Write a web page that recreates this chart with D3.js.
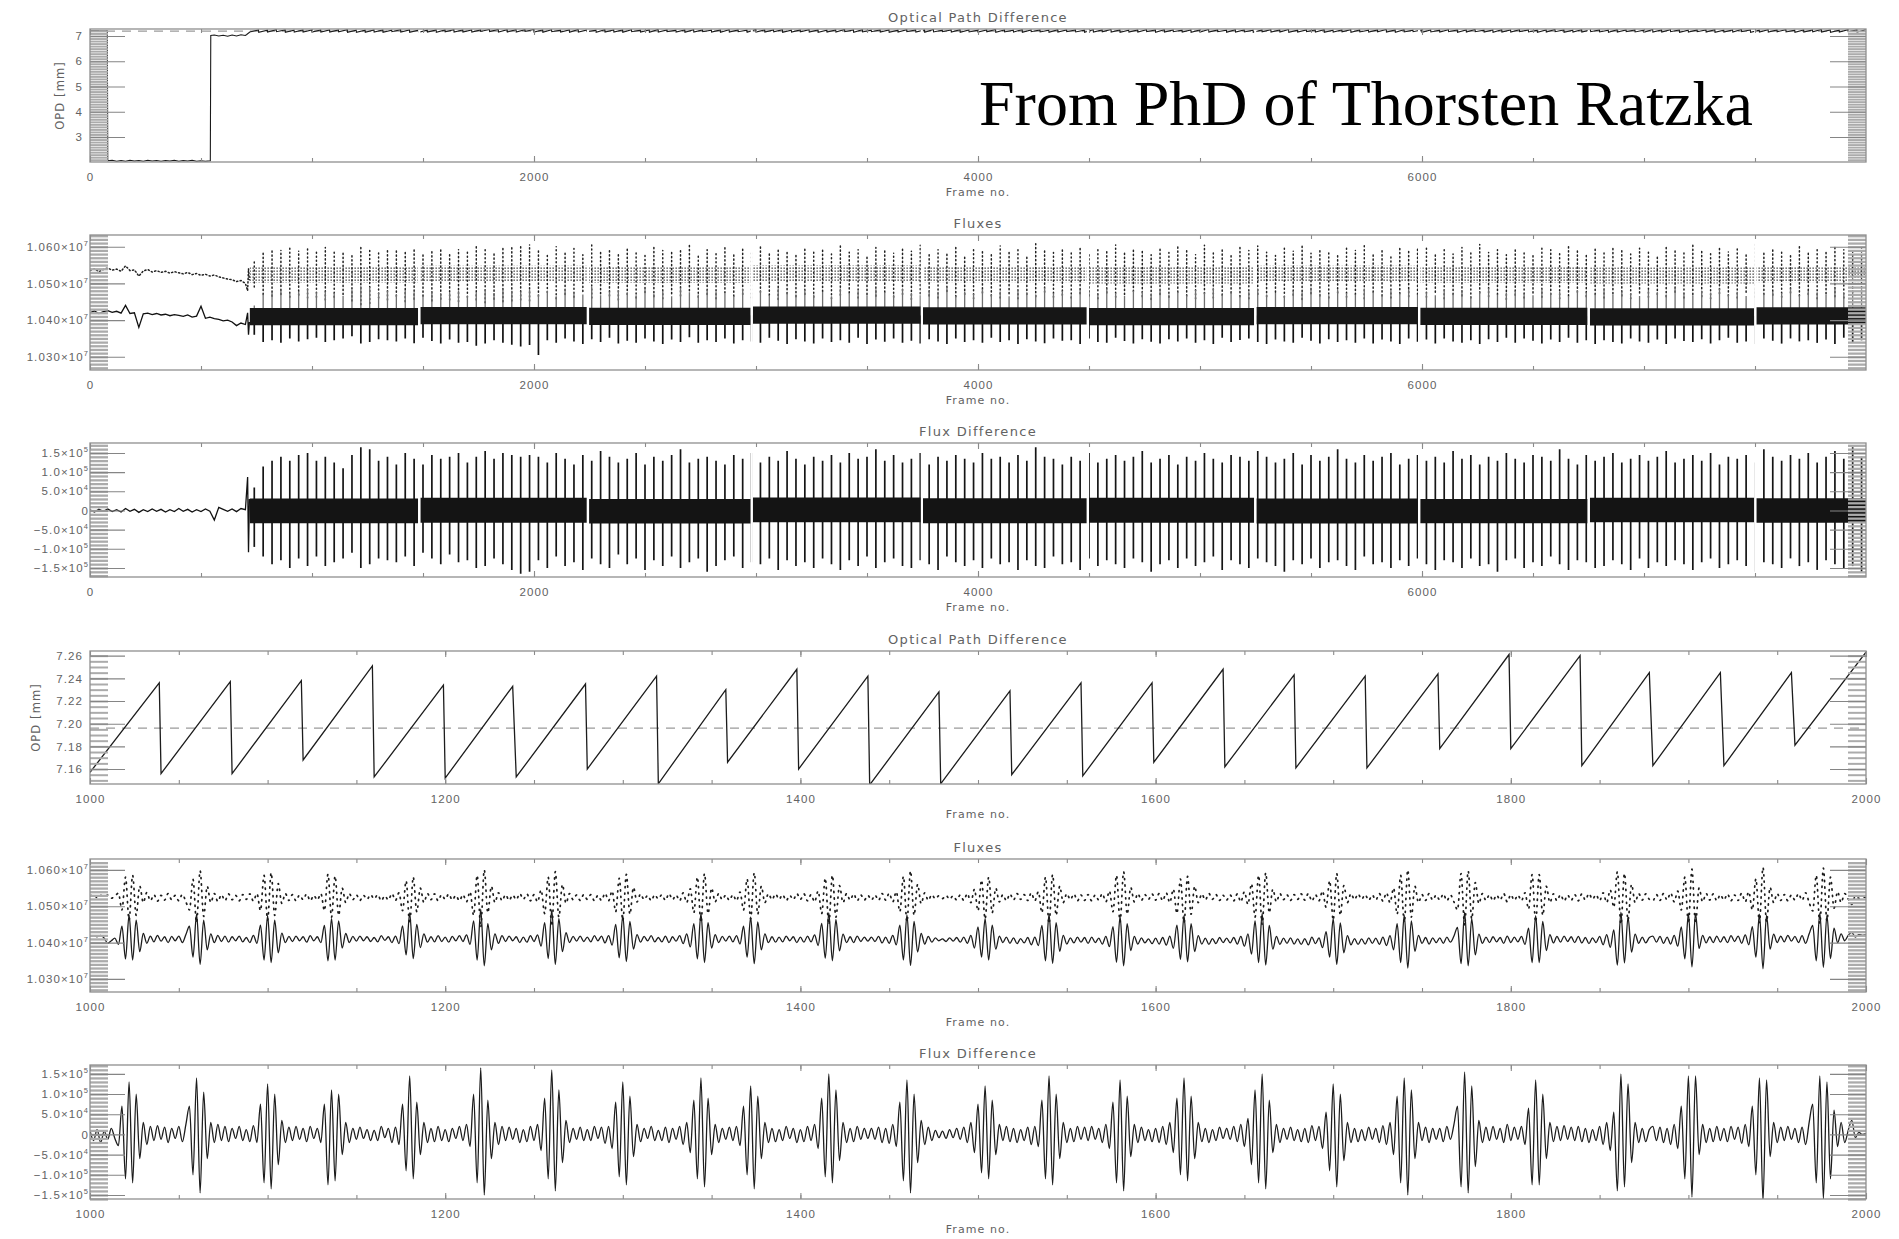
<!DOCTYPE html>
<html>
<head>
<meta charset="utf-8">
<script src="https://cdn.jsdelivr.net/npm/d3@7"></script>
<style>
  body { margin: 0; background: #fff; }
  svg { display: block; font-family: "DejaVu Sans", sans-serif; }
</style>
</head>
<body>
<svg id="fig" width="1899" height="1239"></svg>
<script>
// ---------------- data ----------------
// OPD in mm, fluxes in 10^3 counts, flux difference in 10^3 counts

// start of the run, before fringe tracking (frames 0..720)
const opdPreFrames = [0, 78, 80, 100, 120, 140, 160, 180, 200, 220, 240, 260, 280, 300, 320, 340, 360, 380, 400, 420, 440, 460, 480, 500, 520, 542, 544, 560, 580, 600, 620, 640, 660, 680, 700, 706, 720];
const opdPreValues = [7.20, 7.20, 2.06, 2.08, 2.04, 2.07, 2.04, 2.08, 2.05, 2.07, 2.04, 2.08, 2.05, 2.07, 2.04, 2.07, 2.05, 2.08, 2.04, 2.07, 2.05, 2.08, 2.04, 2.06, 2.04, 2.06, 7.02, 7.04, 7.00, 7.03, 6.99, 7.04, 7.00, 7.05, 7.02, 7.06, 7.16];

const fluxPreFrames = [0, 20, 40, 60, 80, 100, 120, 140, 160, 180, 200, 220, 240, 260, 280, 300, 320, 340, 360, 380, 400, 420, 440, 460, 480, 500, 520, 540, 560, 580, 600, 620, 640, 660, 680, 700, 710, 714, 718];
const diffPre = [2, -4, 3, -2, 4, -3, 2, -4, 5, -2, 3, -5, 2, -3, 4, -2, 3, -4, 2, -3, 5, -2, 3, -4, 2, -3, 4, -2, -25, 8, 3, -2, 4, -3, 5, 2, 87, -109, 30];
const fluxBPre = [10420, 10425, 10418, 10423, 10426, 10421, 10424, 10419, 10440, 10418, 10420, 10380, 10417, 10419, 10415, 10418, 10414, 10416, 10412, 10415, 10413, 10410, 10414, 10408, 10411, 10438, 10405, 10408, 10404, 10402, 10398, 10400, 10395, 10385, 10392, 10388, 10420, 10360, 10395];
const fluxAPre = [10535, 10540, 10532, 10538, 10542, 10536, 10539, 10533, 10548, 10535, 10537, 10520, 10534, 10538, 10531, 10535, 10530, 10533, 10528, 10532, 10529, 10526, 10530, 10524, 10527, 10522, 10525, 10520, 10523, 10518, 10515, 10512, 10510, 10505, 10508, 10500, 10480, 10540, 10510];

// fringe tracking run, summarised in 40-frame bins from frame 720
const binStart = 720, binWidth = 40;
const opdLo = [
  7.16, 7.15, 7.16, 7.17, 7.15, 7.16, 7.16,
  7.16, 7.16, 7.16, 7.17, 7.15, 7.15, 7.15, 7.16, 7.15, 7.17, 7.16, 7.15, 7.15, 7.16, 7.15, 7.17, 7.16, 7.16, 7.16, 7.18, 7.18, 7.16, 7.16, 7.16, 7.18,
  7.16, 7.15, 7.17, 7.16, 7.15, 7.16, 7.17, 7.15, 7.16, 7.16,
  7.15, 7.17, 7.16, 7.15, 7.16, 7.17, 7.16, 7.15, 7.16, 7.17,
  7.16, 7.15, 7.16, 7.17, 7.15, 7.16, 7.16, 7.17, 7.15, 7.16,
  7.17, 7.16, 7.15, 7.16, 7.16, 7.17, 7.15, 7.16, 7.17, 7.16,
  7.15, 7.16, 7.17, 7.16, 7.15, 7.16, 7.17, 7.16, 7.15, 7.16,
  7.16, 7.17, 7.15, 7.16, 7.16, 7.15, 7.17, 7.16, 7.15, 7.16,
  7.17, 7.16, 7.15, 7.16, 7.17, 7.16, 7.15, 7.16, 7.16, 7.17,
  7.15, 7.16, 7.17, 7.16, 7.15, 7.16, 7.16, 7.17, 7.15, 7.16,
  7.16, 7.15, 7.17, 7.16, 7.16, 7.15, 7.16, 7.17, 7.16, 7.15,
  7.16, 7.17, 7.15, 7.16, 7.16, 7.17, 7.16, 7.15, 7.16, 7.17,
  7.15, 7.16, 7.16, 7.17, 7.15, 7.16, 7.17, 7.16, 7.15, 7.16,
  7.16, 7.17, 7.16, 7.15, 7.16, 7.17, 7.15, 7.16, 7.16, 7.17,
  7.16, 7.15, 7.16, 7.17, 7.16, 7.15, 7.16, 7.16, 7.17, 7.15,
  7.16, 7.17, 7.16, 7.15, 7.16, 7.16, 7.17, 7.15, 7.16, 7.16,
  7.17, 7.16, 7.15, 7.16, 7.17, 7.16, 7.15, 7.16, 7.17, 7.16
];
const opdHi = [
  7.24, 7.23, 7.25, 7.24, 7.23, 7.24, 7.24,
  7.24, 7.24, 7.24, 7.25, 7.23, 7.23, 7.24, 7.24, 7.23, 7.25, 7.24, 7.23, 7.23, 7.24, 7.24, 7.25, 7.24, 7.24, 7.24, 7.26, 7.26, 7.25, 7.25, 7.25, 7.26,
  7.24, 7.25, 7.23, 7.24, 7.26, 7.24, 7.23, 7.25, 7.24, 7.24,
  7.25, 7.23, 7.24, 7.26, 7.24, 7.23, 7.24, 7.25, 7.24, 7.23,
  7.24, 7.25, 7.24, 7.23, 7.26, 7.24, 7.24, 7.25, 7.23, 7.24,
  7.25, 7.24, 7.23, 7.24, 7.26, 7.24, 7.25, 7.23, 7.24, 7.24,
  7.23, 7.25, 7.24, 7.24, 7.26, 7.23, 7.24, 7.25, 7.24, 7.23,
  7.24, 7.26, 7.24, 7.23, 7.25, 7.24, 7.24, 7.23, 7.25, 7.24,
  7.24, 7.23, 7.25, 7.24, 7.26, 7.24, 7.23, 7.24, 7.25, 7.24,
  7.25, 7.24, 7.23, 7.24, 7.24, 7.26, 7.24, 7.23, 7.25, 7.24,
  7.23, 7.24, 7.25, 7.24, 7.26, 7.23, 7.24, 7.24, 7.25, 7.23,
  7.24, 7.25, 7.24, 7.23, 7.24, 7.26, 7.24, 7.25, 7.23, 7.24,
  7.24, 7.23, 7.25, 7.24, 7.24, 7.26, 7.23, 7.24, 7.25, 7.24,
  7.25, 7.24, 7.23, 7.24, 7.26, 7.24, 7.23, 7.25, 7.24, 7.24,
  7.23, 7.25, 7.24, 7.24, 7.23, 7.26, 7.24, 7.25, 7.24, 7.23,
  7.24, 7.24, 7.25, 7.23, 7.24, 7.26, 7.24, 7.23, 7.25, 7.24,
  7.25, 7.23, 7.24, 7.24, 7.26, 7.24, 7.23, 7.25, 7.24, 7.25
];
const diffHi = [
  60, 115, 130, 140, 130, 145, 150,
  130, 140, 125, 110, 145, 165, 160, 130, 140, 120, 150, 135, 120, 145, 135, 140, 150, 125, 140, 155, 135, 150, 145, 140, 145,
  140, 125, 150, 135, 120, 145, 130, 155, 140, 125,
  135, 150, 120, 140, 130, 145, 160, 125, 135, 140,
  130, 120, 145, 135, 150, 125, 140, 130, 155, 135,
  120, 140, 130, 145, 125, 150, 135, 140, 160, 130,
  145, 125, 135, 150, 120, 140, 130, 145, 135, 125,
  150, 135, 140, 125, 145, 130, 165, 140, 135, 120,
  140, 130, 150, 125, 135, 145, 130, 140, 155, 125,
  135, 145, 120, 140, 130, 150, 135, 125, 145, 140,
  130, 155, 140, 125, 135, 150, 120, 145, 130, 140,
  160, 135, 125, 145, 130, 140, 150, 120, 135, 145,
  130, 140, 125, 155, 135, 145, 120, 140, 130, 150,
  135, 125, 145, 140, 130, 160, 135, 120, 145, 130,
  140, 150, 125, 135, 145, 130, 140, 155, 125, 135,
  145, 130, 150, 120, 140, 135, 145, 125, 160, 140,
  130, 145, 135, 150, 125, 140, 155, 135, 165, 140
];
const diffLo = [
  -95, -120, -140, -130, -150, -125, -145,
  -120, -145, -135, -125, -110, -150, -140, -125, -130, -135, -120, -145, -110, -125, -140, -115, -135, -130, -150, -145, -125, -140, -155, -165, -160,
  -130, -150, -120, -145, -135, -155, -125, -140, -150, -115,
  -140, -125, -155, -130, -145, -120, -150, -135, -125, -160,
  -145, -130, -120, -150, -135, -140, -125, -155, -130, -145,
  -135, -150, -125, -140, -155, -130, -145, -120, -150, -135,
  -125, -145, -150, -130, -140, -155, -120, -135, -145, -130,
  -150, -125, -140, -135, -155, -130, -145, -150, -120, -140,
  -135, -155, -125, -145, -130, -140, -150, -125, -135, -160,
  -140, -130, -150, -125, -145, -135, -120, -155, -130, -140,
  -150, -125, -135, -145, -160, -130, -140, -125, -150, -135,
  -130, -145, -155, -120, -140, -135, -150, -130, -145, -125,
  -140, -155, -130, -135, -150, -125, -145, -140, -160, -130,
  -125, -150, -135, -145, -120, -140, -155, -130, -135, -150,
  -145, -130, -140, -155, -125, -150, -135, -145, -130, -140,
  -155, -135, -125, -150, -140, -130, -145, -160, -135, -140,
  -150, -125, -145, -135, -155, -130, -140, -150, -145, -160
];
const fluxBLo = [
  10360, 10340, 10345, 10338, 10350, 10342, 10348,
  10352, 10340, 10345, 10350, 10356, 10336, 10340, 10348, 10345, 10342, 10350, 10337, 10352, 10343, 10336, 10347, 10338, 10340, 10330, 10336, 10345, 10338, 10333, 10328, 10332,
  10305, 10345, 10338, 10350, 10342, 10335, 10348, 10340, 10352, 10336,
  10344, 10338, 10350, 10342, 10335, 10347, 10340, 10353, 10338, 10345,
  10340, 10350, 10336, 10345, 10342, 10338, 10352, 10344, 10335, 10348,
  10342, 10336, 10350, 10340, 10345, 10338, 10352, 10335, 10347, 10341,
  10350, 10338, 10344, 10336, 10348, 10342, 10335, 10350, 10340, 10345,
  10338, 10352, 10340, 10345, 10335, 10348, 10342, 10337, 10350, 10344,
  10345, 10335, 10350, 10340, 10338, 10352, 10343, 10336, 10348, 10341,
  10336, 10348, 10342, 10350, 10338, 10345, 10335, 10352, 10340, 10346,
  10350, 10340, 10335, 10347, 10342, 10338, 10352, 10344, 10336, 10348,
  10340, 10345, 10338, 10350, 10336, 10347, 10342, 10335, 10350, 10341,
  10347, 10336, 10350, 10342, 10338, 10345, 10335, 10348, 10340, 10352,
  10338, 10350, 10344, 10336, 10347, 10340, 10352, 10338, 10345, 10335,
  10345, 10340, 10336, 10350, 10342, 10338, 10347, 10335, 10350, 10343,
  10340, 10348, 10336, 10345, 10352, 10338, 10342, 10335, 10350, 10344,
  10336, 10350, 10342, 10345, 10338, 10347, 10335, 10352, 10340, 10345
];
const fluxBHi = [
  10440, 10470, 10475, 10480, 10472, 10478, 10485,
  10476, 10478, 10474, 10466, 10482, 10492, 10490, 10475, 10480, 10470, 10482, 10476, 10466, 10478, 10472, 10474, 10480, 10466, 10476, 10484, 10474, 10484, 10480, 10478, 10482,
  10470, 10480, 10465, 10485, 10475, 10470, 10490, 10468, 10478, 10482,
  10475, 10468, 10485, 10472, 10480, 10465, 10488, 10476, 10470, 10483,
  10478, 10472, 10466, 10485, 10474, 10480, 10468, 10487, 10475, 10470,
  10482, 10470, 10477, 10465, 10486, 10473, 10480, 10468, 10484, 10476,
  10470, 10485, 10474, 10468, 10480, 10477, 10490, 10466, 10478, 10472,
  10485, 10470, 10478, 10465, 10482, 10475, 10470, 10488, 10473, 10480,
  10468, 10482, 10476, 10470, 10486, 10474, 10466, 10480, 10478, 10472,
  10484, 10470, 10477, 10468, 10482, 10475, 10488, 10470, 10476, 10466,
  10478, 10485, 10470, 10474, 10466, 10480, 10476, 10488, 10472, 10468,
  10482, 10474, 10470, 10486, 10476, 10468, 10480, 10473, 10485, 10470,
  10476, 10468, 10484, 10472, 10480, 10466, 10478, 10487, 10470, 10475,
  10480, 10472, 10468, 10485, 10474, 10478, 10466, 10482, 10476, 10470,
  10486, 10470, 10478, 10474, 10466, 10482, 10476, 10470, 10488, 10473,
  10468, 10480, 10475, 10486, 10470, 10477, 10466, 10484, 10472, 10478,
  10474, 10486, 10468, 10480, 10476, 10470, 10488, 10474, 10480, 10484
];
const fluxAHi = [
  10560, 10585, 10595, 10590, 10600, 10588, 10596,
  10585, 10598, 10592, 10588, 10580, 10600, 10595, 10588, 10590, 10592, 10585, 10597, 10580, 10587, 10595, 10582, 10592, 10590, 10600, 10597, 10587, 10595, 10602, 10607, 10605,
  10592, 10580, 10600, 10585, 10595, 10578, 10605, 10588, 10590, 10582,
  10598, 10586, 10576, 10602, 10590, 10584, 10595, 10610, 10580, 10592,
  10585, 10600, 10578, 10594, 10588, 10605, 10582, 10596, 10590, 10576,
  10600, 10588, 10594, 10580, 10606, 10585, 10592, 10578, 10598, 10590,
  10582, 10596, 10588, 10604, 10580, 10592, 10586, 10600, 10575, 10594,
  10590, 10580, 10602, 10586, 10595, 10578, 10608, 10590, 10584, 10598,
  10586, 10600, 10580, 10594, 10590, 10605, 10582, 10592, 10588, 10578,
  10596, 10584, 10600, 10590, 10578, 10604, 10588, 10594, 10580, 10598,
  10590, 10602, 10585, 10576, 10596, 10588, 10606, 10582, 10594, 10590,
  10580, 10598, 10590, 10604, 10584, 10592, 10578, 10600, 10588, 10595,
  10602, 10585, 10594, 10580, 10598, 10590, 10606, 10584, 10592, 10578,
  10596, 10588, 10580, 10600, 10592, 10584, 10604, 10590, 10578, 10598,
  10586, 10602, 10590, 10580, 10596, 10588, 10575, 10600, 10592, 10584,
  10604, 10590, 10582, 10598, 10586, 10594, 10580, 10606, 10588, 10596,
  10590, 10580, 10600, 10586, 10596, 10584, 10602, 10592, 10588, 10598
];
const fluxALo = [
  10490, 10470, 10465, 10470, 10462, 10468, 10460,
  10462, 10455, 10462, 10470, 10452, 10442, 10445, 10460, 10455, 10465, 10450, 10457, 10465, 10452, 10457, 10455, 10450, 10462, 10455, 10447, 10457, 10450, 10452, 10455, 10452,
  10465, 10475, 10458, 10470, 10462, 10478, 10460, 10472, 10466, 10455,
  10470, 10460, 10475, 10464, 10458, 10472, 10466, 10480, 10462, 10470,
  10458, 10474, 10465, 10470, 10460, 10476, 10468, 10456, 10472, 10464,
  10470, 10462, 10478, 10458, 10468, 10474, 10460, 10470, 10465, 10476,
  10462, 10470, 10456, 10472, 10466, 10460, 10478, 10464, 10470, 10458,
  10474, 10466, 10460, 10472, 10458, 10470, 10464, 10476, 10462, 10468,
  10460, 10472, 10466, 10458, 10474, 10462, 10470, 10478, 10464, 10456,
  10470, 10462, 10476, 10466, 10458, 10472, 10460, 10468, 10474, 10464,
  10458, 10470, 10464, 10476, 10462, 10468, 10456, 10472, 10466, 10460,
  10474, 10462, 10470, 10458, 10476, 10466, 10460, 10472, 10464, 10470,
  10462, 10476, 10458, 10470, 10466, 10460, 10474, 10464, 10470, 10456,
  10468, 10460, 10474, 10462, 10470, 10458, 10466, 10476, 10464, 10470,
  10460, 10472, 10466, 10458, 10474, 10462, 10470, 10464, 10476, 10460,
  10470, 10464, 10458, 10472, 10466, 10460, 10476, 10462, 10470, 10468,
  10462, 10474, 10466, 10470, 10458, 10472, 10464, 10460, 10476, 10466
];
// dense fringe band between the packets, one entry per recorded block
const diffCoreHi = [31, 33, 30, 34, 32, 33, 31, 30, 33, 32];
const diffCoreLo = [-33, -32, -34, -31, -33, -32, -34, -33, -31, -32];
const fluxBCoreHi = [10433, 10436, 10434, 10437, 10435, 10433, 10436, 10434, 10432, 10435];
const fluxBCoreLo = [10386, 10389, 10387, 10390, 10388, 10386, 10389, 10387, 10385, 10388];
const fluxACoreHi = [10546, 10548, 10545, 10549, 10547, 10545, 10548, 10546, 10544, 10547];
const fluxACoreLo = [10502, 10504, 10501, 10505, 10503, 10500, 10504, 10502, 10500, 10503];
// frames lost between recorded blocks
const gapStart = [1478, 2238, 2976, 3742, 4490, 5244, 5982, 6746, 7496];
const gapEnd = [1488, 2248, 2986, 3752, 4500, 5254, 5992, 6756, 7506];

// zoom on frames 1000..2000: OPD scan vertices
const opdFrames = [1000, 1039, 1040, 1079, 1080, 1119, 1120, 1159, 1160, 1199, 1200, 1238, 1240, 1279, 1280, 1319, 1320, 1358, 1359, 1398, 1399, 1438, 1439, 1478, 1479, 1518, 1519, 1558, 1559, 1598, 1599, 1638, 1639, 1678, 1679, 1718, 1719, 1759, 1760, 1799, 1800, 1839, 1840, 1878, 1880, 1918, 1920, 1958, 1960, 2000];
const opdValues = [7.157, 7.236, 7.156, 7.237, 7.156, 7.238, 7.168, 7.251, 7.153, 7.234, 7.152, 7.233, 7.153, 7.235, 7.160, 7.242, 7.147, 7.230, 7.166, 7.248, 7.160, 7.242, 7.146, 7.228, 7.147, 7.229, 7.155, 7.236, 7.154, 7.236, 7.166, 7.248, 7.162, 7.243, 7.161, 7.242, 7.161, 7.244, 7.178, 7.261, 7.178, 7.260, 7.163, 7.245, 7.163, 7.245, 7.163, 7.245, 7.181, 7.263];
const opdReference = 7.196;

// zoom on frames 1000..2000: every second frame
const detailFirst = 1000, detailStep = 2;
const diffDetail = [
  10, -15, 12, -20, 8, -12, 15, -10, -28, 70,
  -110, 130, -120, 100, -60, 30, -25, 20, -15, 22,
  -12, 18, -20, 15, -10, 20, -18, 25, 70, -100,
  140, -145, 105, -60, 30, -20, 25, -15, 20, -18,
  15, -10, 20, -15, 12, -18, 22, -20, 75, -120,
  125, -135, 100, -75, 35, -20, 18, -15, 20, -12,
  15, -18, 20, -10, 15, -20, 75, -125, 110, -115,
  100, -50, 30, -20, 15, -12, 18, -10, 12, -15,
  10, -15, 20, -8, 15, -20, 18, -25, 75, -90,
  145, -110, 80, -50, 30, -20, 15, -18, 20, -15,
  12, -18, 15, -10, 20, -15, 25, -30, 100, -120,
  165, -150, 85, -60, 30, -25, 20, -15, 18, -12,
  15, -20, 12, -18, 20, -15, 25, -40, 90, -110,
  160, -140, 110, -70, 35, -20, 15, -12, 18, -15,
  12, -15, 20, -10, 18, -22, 20, -35, 80, -105,
  130, -125, 95, -55, 25, -18, 15, -10, 20, -15,
  10, -15, 18, -20, 15, -12, 20, -25, 30, -45,
  85, -110, 140, -130, 90, -50, 25, -20, 15, -12,
  18, -15, 20, -28, 70, -100, 120, -135, 95, -60,
  30, -20, 15, -18, 12, -15, 20, -10, 15, -20,
  12, -18, 20, -15, 25, -35, 90, -105, 150, -120,
  110, -65, 30, -20, 15, -18, 20, -12, 15, -10,
  15, -12, 18, -20, 15, -22, 25, -30, 80, -115,
  135, -145, 100, -70, 35, -25, 18, -15, 10, -8,
  8, -10, 12, -8, 15, -12, 18, -20, 30, -45,
  75, -95, 120, -110, 85, -50, 25, -15, 20, -18,
  15, -20, 12, -15, 18, -25, 20, -30, 85, -110,
  145, -125, 100, -60, 30, -20, 15, -18, 20, -12,
  18, -15, 20, -12, 15, -20, 25, -35, 80, -120,
  135, -140, 95, -55, 25, -20, 18, -15, 12, -18,
  15, -20, 20, -25, 30, -45, 90, -100, 140, -115,
  95, -60, 30, -18, 15, -20, 12, -15, 18, -10,
  15, -12, 20, -18, 25, -30, 40, -75, 110, -120,
  150, -135, 85, -45, 25, -20, 15, -12, 18, -15,
  12, -18, 15, -20, 22, -15, 20, -35, 55, -90,
  125, -130, 100, -65, 30, -20, 15, -18, 12, -15,
  18, -12, 15, -20, 22, -25, 30, -50, 95, -120,
  140, -150, 110, -60, 30, -15, 18, -20, 15, -12,
  15, -18, 20, -12, 25, 70, -130, 155, -145, 120,
  -80, 35, -20, 18, -15, 20, -12, 15, -20, 25,
  -15, 18, -12, 20, -25, 65, -125, 135, -125, 100,
  -60, 30, -18, 20, -15, 22, -12, 18, -15, 20,
  -18, 15, -20, 12, -15, 20, -25, 30, -40, 55,
  -140, 150, -130, 125, -70, 30, -20, 15, -18, 12,
  20, -15, 18, -20, 15, -25, 25, -35, 70, -110,
  145, -155, 145, -50, 25, -20, 15, -18, 20, -15,
  15, -18, 20, -12, 18, -22, 25, -30, 70, -100,
  140, -165, 135, -55, 30, -20, 18, -15, 20, -12,
  15, -20, 18, -25, 30, 75, -120, 145, -160, 130,
  -110, 60, -30, 30, -20, 10, 35, -8, 5, 0,
  2
];
const fluxBDetail = [
  10418, 10419, 10416, 10420, 10412, 10398, 10405, 10412, 10395, 10445,
  10355, 10476, 10352, 10462, 10375, 10425, 10398, 10418, 10402, 10420,
  10404, 10416, 10400, 10417, 10405, 10418, 10400, 10422, 10445, 10360,
  10478, 10340, 10462, 10380, 10424, 10400, 10420, 10403, 10418, 10401,
  10416, 10405, 10418, 10402, 10414, 10400, 10420, 10398, 10448, 10352,
  10474, 10345, 10462, 10372, 10426, 10400, 10417, 10403, 10418, 10405,
  10416, 10401, 10419, 10405, 10416, 10400, 10447, 10350, 10466, 10352,
  10460, 10385, 10425, 10400, 10417, 10404, 10418, 10405, 10416, 10403,
  10414, 10402, 10419, 10406, 10416, 10400, 10418, 10397, 10446, 10366,
  10482, 10356, 10450, 10386, 10424, 10401, 10416, 10402, 10419, 10403,
  10415, 10401, 10417, 10405, 10419, 10403, 10421, 10395, 10460, 10352,
  10492, 10336, 10452, 10380, 10424, 10398, 10419, 10403, 10418, 10405,
  10416, 10400, 10415, 10401, 10419, 10403, 10421, 10390, 10455, 10356,
  10490, 10340, 10466, 10375, 10427, 10400, 10417, 10404, 10418, 10403,
  10415, 10402, 10419, 10405, 10418, 10399, 10419, 10393, 10450, 10358,
  10475, 10348, 10458, 10382, 10422, 10401, 10417, 10405, 10419, 10402,
  10414, 10402, 10418, 10400, 10416, 10404, 10419, 10397, 10424, 10388,
  10452, 10355, 10480, 10345, 10455, 10385, 10422, 10400, 10417, 10404,
  10418, 10402, 10419, 10396, 10445, 10360, 10470, 10342, 10457, 10380,
  10424, 10400, 10416, 10401, 10415, 10402, 10418, 10405, 10416, 10400,
  10415, 10401, 10418, 10402, 10421, 10392, 10453, 10357, 10482, 10350,
  10463, 10377, 10423, 10400, 10416, 10400, 10418, 10403, 10415, 10404,
  10415, 10403, 10417, 10399, 10415, 10398, 10420, 10394, 10448, 10352,
  10476, 10337, 10458, 10374, 10425, 10396, 10417, 10401, 10413, 10405,
  10410, 10403, 10413, 10404, 10414, 10401, 10415, 10398, 10420, 10385,
  10443, 10360, 10466, 10352, 10448, 10382, 10418, 10400, 10415, 10398,
  10413, 10397, 10411, 10399, 10414, 10394, 10415, 10392, 10447, 10350,
  10478, 10343, 10455, 10376, 10420, 10396, 10413, 10399, 10415, 10401,
  10414, 10398, 10415, 10400, 10412, 10396, 10417, 10389, 10444, 10346,
  10472, 10336, 10452, 10378, 10417, 10396, 10413, 10399, 10410, 10397,
  10412, 10396, 10414, 10393, 10418, 10384, 10448, 10354, 10474, 10347,
  10452, 10375, 10419, 10396, 10412, 10395, 10411, 10397, 10414, 10400,
  10412, 10399, 10414, 10396, 10417, 10390, 10424, 10368, 10460, 10345,
  10480, 10338, 10447, 10382, 10417, 10395, 10412, 10398, 10413, 10396,
  10410, 10395, 10411, 10394, 10415, 10397, 10413, 10386, 10430, 10360,
  10466, 10340, 10454, 10372, 10419, 10394, 10411, 10395, 10410, 10396,
  10413, 10398, 10412, 10395, 10415, 10392, 10419, 10380, 10452, 10345,
  10476, 10330, 10460, 10376, 10420, 10398, 10414, 10396, 10413, 10400,
  10413, 10398, 10415, 10401, 10418, 10442, 10342, 10484, 10336, 10466,
  10366, 10423, 10398, 10415, 10400, 10416, 10402, 10414, 10398, 10418,
  10400, 10415, 10402, 10417, 10395, 10440, 10345, 10474, 10345, 10458,
  10378, 10422, 10399, 10417, 10401, 10418, 10403, 10416, 10400, 10417,
  10399, 10414, 10397, 10413, 10400, 10417, 10394, 10422, 10387, 10435,
  10338, 10484, 10344, 10470, 10374, 10423, 10398, 10415, 10399, 10414,
  10418, 10401, 10417, 10398, 10415, 10396, 10420, 10390, 10443, 10355,
  10480, 10333, 10480, 10384, 10420, 10399, 10416, 10400, 10418, 10401,
  10416, 10400, 10419, 10403, 10418, 10398, 10421, 10394, 10444, 10360,
  10478, 10328, 10475, 10382, 10423, 10400, 10418, 10402, 10420, 10404,
  10417, 10400, 10419, 10398, 10424, 10447, 10350, 10482, 10332, 10475,
  10356, 10440, 10400, 10424, 10405, 10420, 10428, 10415, 10422, 10420,
  10421
];
const fluxADetail = [
  10528, 10532, 10524, 10530, 10526, 10531, 10522, 10528, 10536, 10490,
  10580, 10462, 10585, 10475, 10556, 10510, 10538, 10515, 10532, 10514,
  10530, 10517, 10535, 10518, 10530, 10515, 10533, 10512, 10490, 10574,
  10455, 10598, 10472, 10555, 10510, 10535, 10513, 10532, 10515, 10534,
  10518, 10530, 10515, 10532, 10519, 10534, 10514, 10535, 10488, 10585,
  10462, 10592, 10475, 10562, 10508, 10535, 10516, 10532, 10515, 10531,
  10518, 10534, 10515, 10530, 10517, 10535, 10488, 10588, 10470, 10583,
  10475, 10550, 10510, 10535, 10518, 10531, 10516, 10530, 10519, 10532,
  10520, 10532, 10515, 10529, 10517, 10535, 10516, 10537, 10488, 10570,
  10452, 10580, 10485, 10550, 10510, 10535, 10518, 10534, 10515, 10532,
  10519, 10534, 10517, 10530, 10515, 10532, 10512, 10540, 10475, 10585,
  10442, 10600, 10482, 10555, 10510, 10537, 10515, 10532, 10516, 10531,
  10518, 10535, 10519, 10534, 10515, 10532, 10512, 10545, 10480, 10580,
  10445, 10595, 10470, 10560, 10508, 10535, 10518, 10531, 10516, 10532,
  10519, 10532, 10515, 10530, 10516, 10536, 10515, 10542, 10485, 10577,
  10460, 10588, 10478, 10552, 10512, 10534, 10518, 10530, 10515, 10532,
  10520, 10532, 10516, 10535, 10518, 10531, 10515, 10537, 10510, 10548,
  10482, 10580, 10455, 10590, 10480, 10550, 10512, 10535, 10518, 10531,
  10516, 10532, 10515, 10539, 10490, 10575, 10465, 10592, 10478, 10555,
  10510, 10535, 10518, 10534, 10519, 10532, 10515, 10530, 10518, 10535,
  10519, 10534, 10515, 10532, 10512, 10542, 10480, 10577, 10450, 10585,
  10470, 10557, 10510, 10535, 10517, 10534, 10515, 10531, 10517, 10530,
  10517, 10531, 10516, 10535, 10517, 10536, 10512, 10540, 10485, 10582,
  10457, 10597, 10475, 10560, 10507, 10537, 10516, 10532, 10520, 10529,
  10521, 10530, 10519, 10529, 10517, 10531, 10516, 10535, 10510, 10547,
  10487, 10572, 10465, 10580, 10482, 10550, 10512, 10532, 10515, 10534,
  10517, 10535, 10519, 10532, 10516, 10537, 10515, 10540, 10482, 10580,
  10452, 10587, 10475, 10555, 10510, 10535, 10518, 10534, 10515, 10531,
  10516, 10532, 10515, 10531, 10517, 10535, 10512, 10542, 10485, 10585,
  10457, 10595, 10478, 10552, 10512, 10535, 10516, 10532, 10519, 10534,
  10517, 10535, 10515, 10537, 10510, 10547, 10480, 10575, 10455, 10582,
  10478, 10555, 10510, 10534, 10517, 10535, 10519, 10532, 10516, 10530,
  10517, 10531, 10515, 10534, 10512, 10540, 10505, 10562, 10470, 10585,
  10450, 10592, 10482, 10547, 10512, 10535, 10518, 10531, 10516, 10532,
  10519, 10534, 10517, 10535, 10514, 10532, 10515, 10542, 10497, 10570,
  10462, 10590, 10475, 10557, 10510, 10535, 10518, 10534, 10519, 10532,
  10516, 10531, 10517, 10535, 10514, 10537, 10510, 10550, 10478, 10585,
  10455, 10600, 10470, 10555, 10510, 10532, 10516, 10535, 10517, 10531,
  10517, 10534, 10515, 10531, 10512, 10490, 10590, 10447, 10597, 10465,
  10565, 10507, 10535, 10516, 10532, 10515, 10531, 10517, 10535, 10512,
  10532, 10516, 10531, 10515, 10537, 10492, 10587, 10457, 10587, 10475,
  10555, 10510, 10534, 10515, 10532, 10514, 10531, 10516, 10532, 10515,
  10534, 10517, 10535, 10519, 10532, 10515, 10537, 10510, 10545, 10497,
  10595, 10450, 10590, 10462, 10560, 10510, 10535, 10517, 10534, 10519,
  10515, 10532, 10516, 10535, 10517, 10537, 10512, 10542, 10490, 10580,
  10452, 10602, 10452, 10550, 10512, 10535, 10517, 10534, 10515, 10532,
  10517, 10534, 10515, 10531, 10516, 10536, 10512, 10540, 10490, 10575,
  10455, 10607, 10457, 10552, 10510, 10535, 10516, 10532, 10515, 10531,
  10517, 10535, 10516, 10537, 10510, 10487, 10585, 10452, 10605, 10460,
  10580, 10495, 10540, 10510, 10535, 10520, 10505, 10528, 10522, 10525,
  10524
];

// axis ticks
const overviewXMajor = [0, 2000, 4000, 6000];
const overviewXMinor = d3.range(500, 8000, 500);
const detailXMajor = [1000, 1200, 1400, 1600, 1800, 2000];
const detailXMinor = d3.range(1050, 2000, 50);
const opdWideTicks = [3, 4, 5, 6, 7];
const opdZoomTicks = [7.16, 7.18, 7.20, 7.22, 7.24, 7.26];
const fluxTicks = [10300, 10400, 10500, 10600];
const diffTicks = [-150, -100, -50, 0, 50, 100, 150];

// ---------------- drawing ----------------
const svg = d3.select('#fig');
const left = 90, right = 1866;
const frameGrey = '#8f8f8f', labelGrey = '#626262';

svg.append('rect').attr('width', 1899).attr('height', 1239).attr('fill', '#fff');

// dotted fill used for the upper (dotted) flux band
const defs = svg.append('defs');
const pat = defs.append('pattern').attr('id', 'dots').attr('patternUnits', 'userSpaceOnUse')
  .attr('width', 3).attr('height', 3);
pat.append('rect').attr('x', 0.5).attr('y', 0.5).attr('width', 1.3).attr('height', 1.3).attr('fill', '#333');

function sciLabel(mant, exp) { return { base: mant + '×10', sup: String(exp) }; }
const fmtFlux = v => sciLabel((v / 10000).toFixed(3), 7);
const fmtDiff = v => {
  if (v === 0) return { base: '0', sup: '' };
  const n = Math.abs(v) * 1000, e = Math.floor(Math.log10(n) + 1e-9);
  return { base: (v < 0 ? '−' : '') + (n / 10 ** e).toFixed(1) + '×10', sup: String(e) };
};
const fmtPlain = dec => v => ({ base: v.toFixed(dec), sup: '' });

const panelDefs = [
  { key: 'opdWide', top: 29, bottom: 162, xDomain: [0, 8000], yDomain: [2.01, 7.277],
    title: 'Optical Path Difference', yTicks: opdWideTicks, yMinor: d3.range(2.1, 7.25, 0.1), minorWidth: 1.9,
    fmt: fmtPlain(0), pad: 7, yLabel: 'OPD [mm]', yLabelX: 60, xMajor: overviewXMajor, xMinor: overviewXMinor },
  { key: 'fluxWide', top: 235, bottom: 370, xDomain: [0, 8000], yDomain: [10264, 10632],
    title: 'Fluxes', yTicks: fluxTicks, yMinor: d3.range(10270, 10632, 10), minorWidth: 2.3,
    fmt: fmtFlux, pad: 1, xMajor: overviewXMajor, xMinor: overviewXMinor },
  { key: 'diffWide', top: 443, bottom: 577, xDomain: [0, 8000], yDomain: [-173.5, 176],
    title: 'Flux Difference', yTicks: diffTicks, yMinor: d3.range(-170, 176, 10), minorWidth: 2.3,
    fmt: fmtDiff, pad: 1, xMajor: overviewXMajor, xMinor: overviewXMinor },
  { key: 'opdZoom', top: 651, bottom: 784, xDomain: [1000, 2000], yDomain: [7.1468, 7.2641],
    title: 'Optical Path Difference', yTicks: opdZoomTicks, yMinor: d3.range(7.15, 7.264, 0.005), minorWidth: 2,
    fmt: fmtPlain(2), pad: 7, yLabel: 'OPD [mm]', yLabelX: 36, xMajor: detailXMajor, xMinor: detailXMinor },
  { key: 'fluxZoom', top: 859, bottom: 992, xDomain: [1000, 2000], yDomain: [10264, 10630],
    title: 'Fluxes', yTicks: fluxTicks, yMinor: d3.range(10270, 10630, 10), minorWidth: 2.3,
    fmt: fmtFlux, pad: 1, xMajor: detailXMajor, xMinor: detailXMinor },
  { key: 'diffZoom', top: 1065, bottom: 1199, xDomain: [1000, 2000], yDomain: [-160, 172],
    title: 'Flux Difference', yTicks: diffTicks, yMinor: d3.range(-160, 172, 10), minorWidth: 2.3,
    fmt: fmtDiff, pad: 1, xMajor: detailXMajor, xMinor: detailXMinor }
];

// recorded stretches of the long run (between the lost frames)
const recorded = [[0, gapStart[0]]].concat(gapStart.slice(1).map((s, i) => [gapEnd[i], s]), [[gapEnd[gapEnd.length - 1], 8000]]);
const blockOf = f => d3.bisectRight(gapStart, f);

const panels = {};
panelDefs.forEach((def, i) => {
  const x = d3.scaleLinear().domain(def.xDomain).range([left, right]);
  const y = d3.scaleLinear().domain(def.yDomain).range([def.bottom, def.top]);
  const clip = defs.append('clipPath').attr('id', 'clip' + i);
  if (def.xDomain[1] === 8000) {
    recorded.forEach(([a, b]) => clip.append('rect').attr('x', x(a)).attr('y', def.top)
      .attr('width', x(b) - x(a)).attr('height', def.bottom - def.top));
  } else {
    clip.append('rect').attr('x', left).attr('y', def.top).attr('width', right - left).attr('height', def.bottom - def.top);
  }
  const g = svg.append('g');
  const plot = g.append('g').attr('clip-path', `url(#clip${i})`);
  panels[def.key] = { def, x, y, g, plot };
});

const binCentre = i => binStart + binWidth * i + binWidth / 2;

// vertical excursions of the fringe packets, one per scan
function spikes(p, lo, hi, stroke, width, dash) {
  p.plot.append('g').selectAll('line').data(lo).join('line')
    .attr('x1', (d, i) => p.x(binCentre(i))).attr('x2', (d, i) => p.x(binCentre(i)))
    .attr('y1', d => p.y(d)).attr('y2', (d, i) => p.y(hi[i]))
    .attr('stroke', stroke).attr('stroke-width', width)
    .attr('stroke-dasharray', dash || null).attr('stroke-linecap', dash ? 'round' : 'butt');
}
// band filled by the fringes between packets, per recorded block
function coreBand(p, lo, hi, fill) {
  const blocks = recorded.map(([a, b], k) => [{ f: Math.max(a, binStart), lo: lo[k], hi: hi[k] }, { f: b, lo: lo[k], hi: hi[k] }]);
  const area = d3.area().x(d => p.x(d.f)).y0(d => p.y(d.lo)).y1(d => p.y(d.hi));
  p.plot.append('g').selectAll('path').data(blocks).join('path').attr('d', area).attr('fill', fill);
}

// --- OPD, whole run ---
{
  const p = panels.opdWide;
  p.plot.append('line').attr('x1', left).attr('x2', right)
    .attr('y1', p.y(opdReference)).attr('y2', p.y(opdReference))
    .attr('stroke', '#9a9a9a').attr('stroke-width', 1.2).attr('stroke-dasharray', '9,7');
  const pts = opdPreFrames.map((f, i) => [f, opdPreValues[i]]);
  opdLo.forEach((v, i) => {
    const s = binStart + binWidth * i;
    pts.push([s, v], [s + binWidth - 1, opdHi[i]]);
  });
  p.plot.append('path').datum(pts)
    .attr('d', d3.line().x(d => p.x(d[0])).y(d => p.y(d[1])))
    .attr('fill', 'none').attr('stroke', '#1a1a1a').attr('stroke-width', 1.1);
}

// --- fluxes, whole run ---
{
  const p = panels.fluxWide;
  const line = d3.line().x(d => p.x(d[0])).y(d => p.y(d[1]));
  coreBand(p, fluxACoreLo, fluxACoreHi, 'url(#dots)');
  spikes(p, fluxALo, fluxAHi, '#222', 1.5, '1.2,2.8');
  p.plot.append('path').datum(fluxPreFrames.map((f, i) => [f, fluxAPre[i]]))
    .attr('d', line).attr('fill', 'none').attr('stroke', '#222').attr('stroke-width', 1.5)
    .attr('stroke-dasharray', '1.2,2.4').attr('stroke-linecap', 'round');
  // upward excursions of the lower flux look lighter than the downward ones
  const bMid = fluxBLo.map((d, i) => {
    const k = blockOf(binCentre(i));
    return (fluxBCoreLo[k] + fluxBCoreHi[k]) / 2;
  });
  spikes(p, bMid, fluxBHi, '#707070', 1.3);
  spikes(p, fluxBLo, bMid, '#111', 1.7);
  coreBand(p, fluxBCoreLo, fluxBCoreHi, '#161616');
  p.plot.append('path').datum(fluxPreFrames.map((f, i) => [f, fluxBPre[i]]))
    .attr('d', line).attr('fill', 'none').attr('stroke', '#111').attr('stroke-width', 1.3);
}

// --- flux difference, whole run ---
{
  const p = panels.diffWide;
  spikes(p, diffLo, diffHi, '#151515', 1.7);
  coreBand(p, diffCoreLo, diffCoreHi, '#141414');
  p.plot.append('path').datum(fluxPreFrames.map((f, i) => [f, diffPre[i]]))
    .attr('d', d3.line().x(d => p.x(d[0])).y(d => p.y(d[1])))
    .attr('fill', 'none').attr('stroke', '#111').attr('stroke-width', 1.3);
}

// --- OPD, frames 1000-2000 ---
{
  const p = panels.opdZoom;
  p.plot.append('line').attr('x1', left).attr('x2', right)
    .attr('y1', p.y(opdReference)).attr('y2', p.y(opdReference))
    .attr('stroke', '#9a9a9a').attr('stroke-width', 1.2).attr('stroke-dasharray', '9,7');
  p.plot.append('path').datum(opdFrames.map((f, i) => [f, opdValues[i]]))
    .attr('d', d3.line().x(d => p.x(d[0])).y(d => p.y(d[1])))
    .attr('fill', 'none').attr('stroke', '#1c1c1c').attr('stroke-width', 1.3);
}

const detailFrame = i => detailFirst + detailStep * i;

// --- fluxes, frames 1000-2000 ---
{
  const p = panels.fluxZoom;
  const line = d3.line().x((d, i) => p.x(detailFrame(i))).y(d => p.y(d)).curve(d3.curveMonotoneX);
  p.plot.append('path').datum(fluxADetail).attr('d', line)
    .attr('fill', 'none').attr('stroke', '#1c1c1c').attr('stroke-width', 1.7)
    .attr('stroke-dasharray', '1.2,5.2').attr('stroke-linecap', 'round');
  p.plot.append('path').datum(fluxBDetail).attr('d', line)
    .attr('fill', 'none').attr('stroke', '#1c1c1c').attr('stroke-width', 1.3);
}

// --- flux difference, frames 1000-2000 ---
{
  const p = panels.diffZoom;
  const line = d3.line().x((d, i) => p.x(detailFrame(i))).y(d => p.y(d)).curve(d3.curveMonotoneX);
  p.plot.append('path').datum(diffDetail).attr('d', line)
    .attr('fill', 'none').attr('stroke', '#1c1c1c').attr('stroke-width', 1.3);
}

// ---------------- axes ----------------
function styleTicks(sel, stroke, width) {
  sel.select('.domain').remove();
  sel.selectAll('.tick line').attr('stroke', stroke).attr('stroke-width', width);
}

Object.values(panels).forEach(p => {
  const { def, x, y, g } = p;

  // minor and major y ticks, both sides
  g.append('g').attr('transform', `translate(${left},0)`)
    .call(d3.axisLeft(y).tickValues(def.yMinor).tickSize(-18).tickFormat(''))
    .call(s => styleTicks(s, '#ababab', def.minorWidth));
  g.append('g').attr('transform', `translate(${right},0)`)
    .call(d3.axisRight(y).tickValues(def.yMinor).tickSize(-18).tickFormat(''))
    .call(s => styleTicks(s, '#ababab', def.minorWidth));
  g.append('g').attr('transform', `translate(${left},0)`)
    .call(d3.axisLeft(y).tickValues(def.yTicks).tickSize(-35).tickFormat(''))
    .call(s => styleTicks(s, '#858585', 1.1));
  g.append('g').attr('transform', `translate(${right},0)`)
    .call(d3.axisRight(y).tickValues(def.yTicks).tickSize(-36).tickFormat(''))
    .call(s => styleTicks(s, '#858585', 1.1));

  // y tick labels with superscript exponents
  g.append('g').attr('transform', `translate(${left},0)`)
    .call(d3.axisLeft(y).tickValues(def.yTicks).tickSize(0).tickPadding(def.pad))
    .call(s => {
      s.select('.domain').remove();
      s.selectAll('.tick line').remove();
      s.selectAll('.tick text').each(function (d) {
        const lab = def.fmt(d);
        const t = d3.select(this).text(null).attr('fill', labelGrey)
          .attr('font-size', 11.5).attr('letter-spacing', 1.1);
        t.append('tspan').text(lab.base);
        if (lab.sup) t.append('tspan').attr('dy', -5).attr('font-size', 7.5).text(lab.sup);
      });
    });

  // x ticks: bottom and top, pointing inward
  [['axisBottom', def.bottom], ['axisTop', def.top]].forEach(([fn, yy]) => {
    g.append('g').attr('transform', `translate(0,${yy})`)
      .call(d3[fn](x).tickValues(def.xMinor).tickSize(-4).tickFormat(''))
      .call(s => styleTicks(s, '#8a8a8a', 1.1));
    g.append('g').attr('transform', `translate(0,${yy})`)
      .call(d3[fn](x).tickValues(def.xMajor).tickSize(-6).tickFormat(''))
      .call(s => styleTicks(s, '#8a8a8a', 1.1));
  });
  g.append('g').attr('transform', `translate(0,${def.bottom})`)
    .call(d3.axisBottom(x).tickValues(def.xMajor).tickSize(0).tickPadding(11).tickFormat(d3.format('d')))
    .call(s => {
      s.select('.domain').remove();
      s.selectAll('.tick line').remove();
      s.selectAll('.tick text').attr('fill', labelGrey).attr('font-size', 11.5).attr('letter-spacing', 1.1);
    });

  // plot frame
  g.append('rect').attr('x', left).attr('y', def.top)
    .attr('width', right - left).attr('height', def.bottom - def.top)
    .attr('fill', 'none').attr('stroke', frameGrey).attr('stroke-width', 1.3);

  // titles
  g.append('text').attr('x', (left + right) / 2).attr('y', def.top - 7)
    .attr('text-anchor', 'middle').attr('fill', labelGrey)
    .attr('font-size', 13).attr('letter-spacing', 1.3).text(def.title);
  g.append('text').attr('x', (left + right) / 2).attr('y', def.bottom + 34)
    .attr('text-anchor', 'middle').attr('fill', labelGrey)
    .attr('font-size', 11).attr('letter-spacing', 1.1).text('Frame no.');
  if (def.yLabel) {
    g.append('text')
      .attr('transform', `translate(${def.yLabelX},${(def.top + def.bottom) / 2}) rotate(-90)`)
      .attr('text-anchor', 'middle').attr('dy', '0.35em').attr('fill', labelGrey)
      .attr('font-size', 11.5).attr('letter-spacing', 1.1).text(def.yLabel);
  }
});

svg.append('text').attr('x', 979).attr('y', 125)
  .attr('font-family', '"Liberation Serif", "Times New Roman", serif')
  .attr('font-size', 64).attr('fill', '#000')
  .text('From PhD of Thorsten Ratzka');
</script>
</body>
</html>
